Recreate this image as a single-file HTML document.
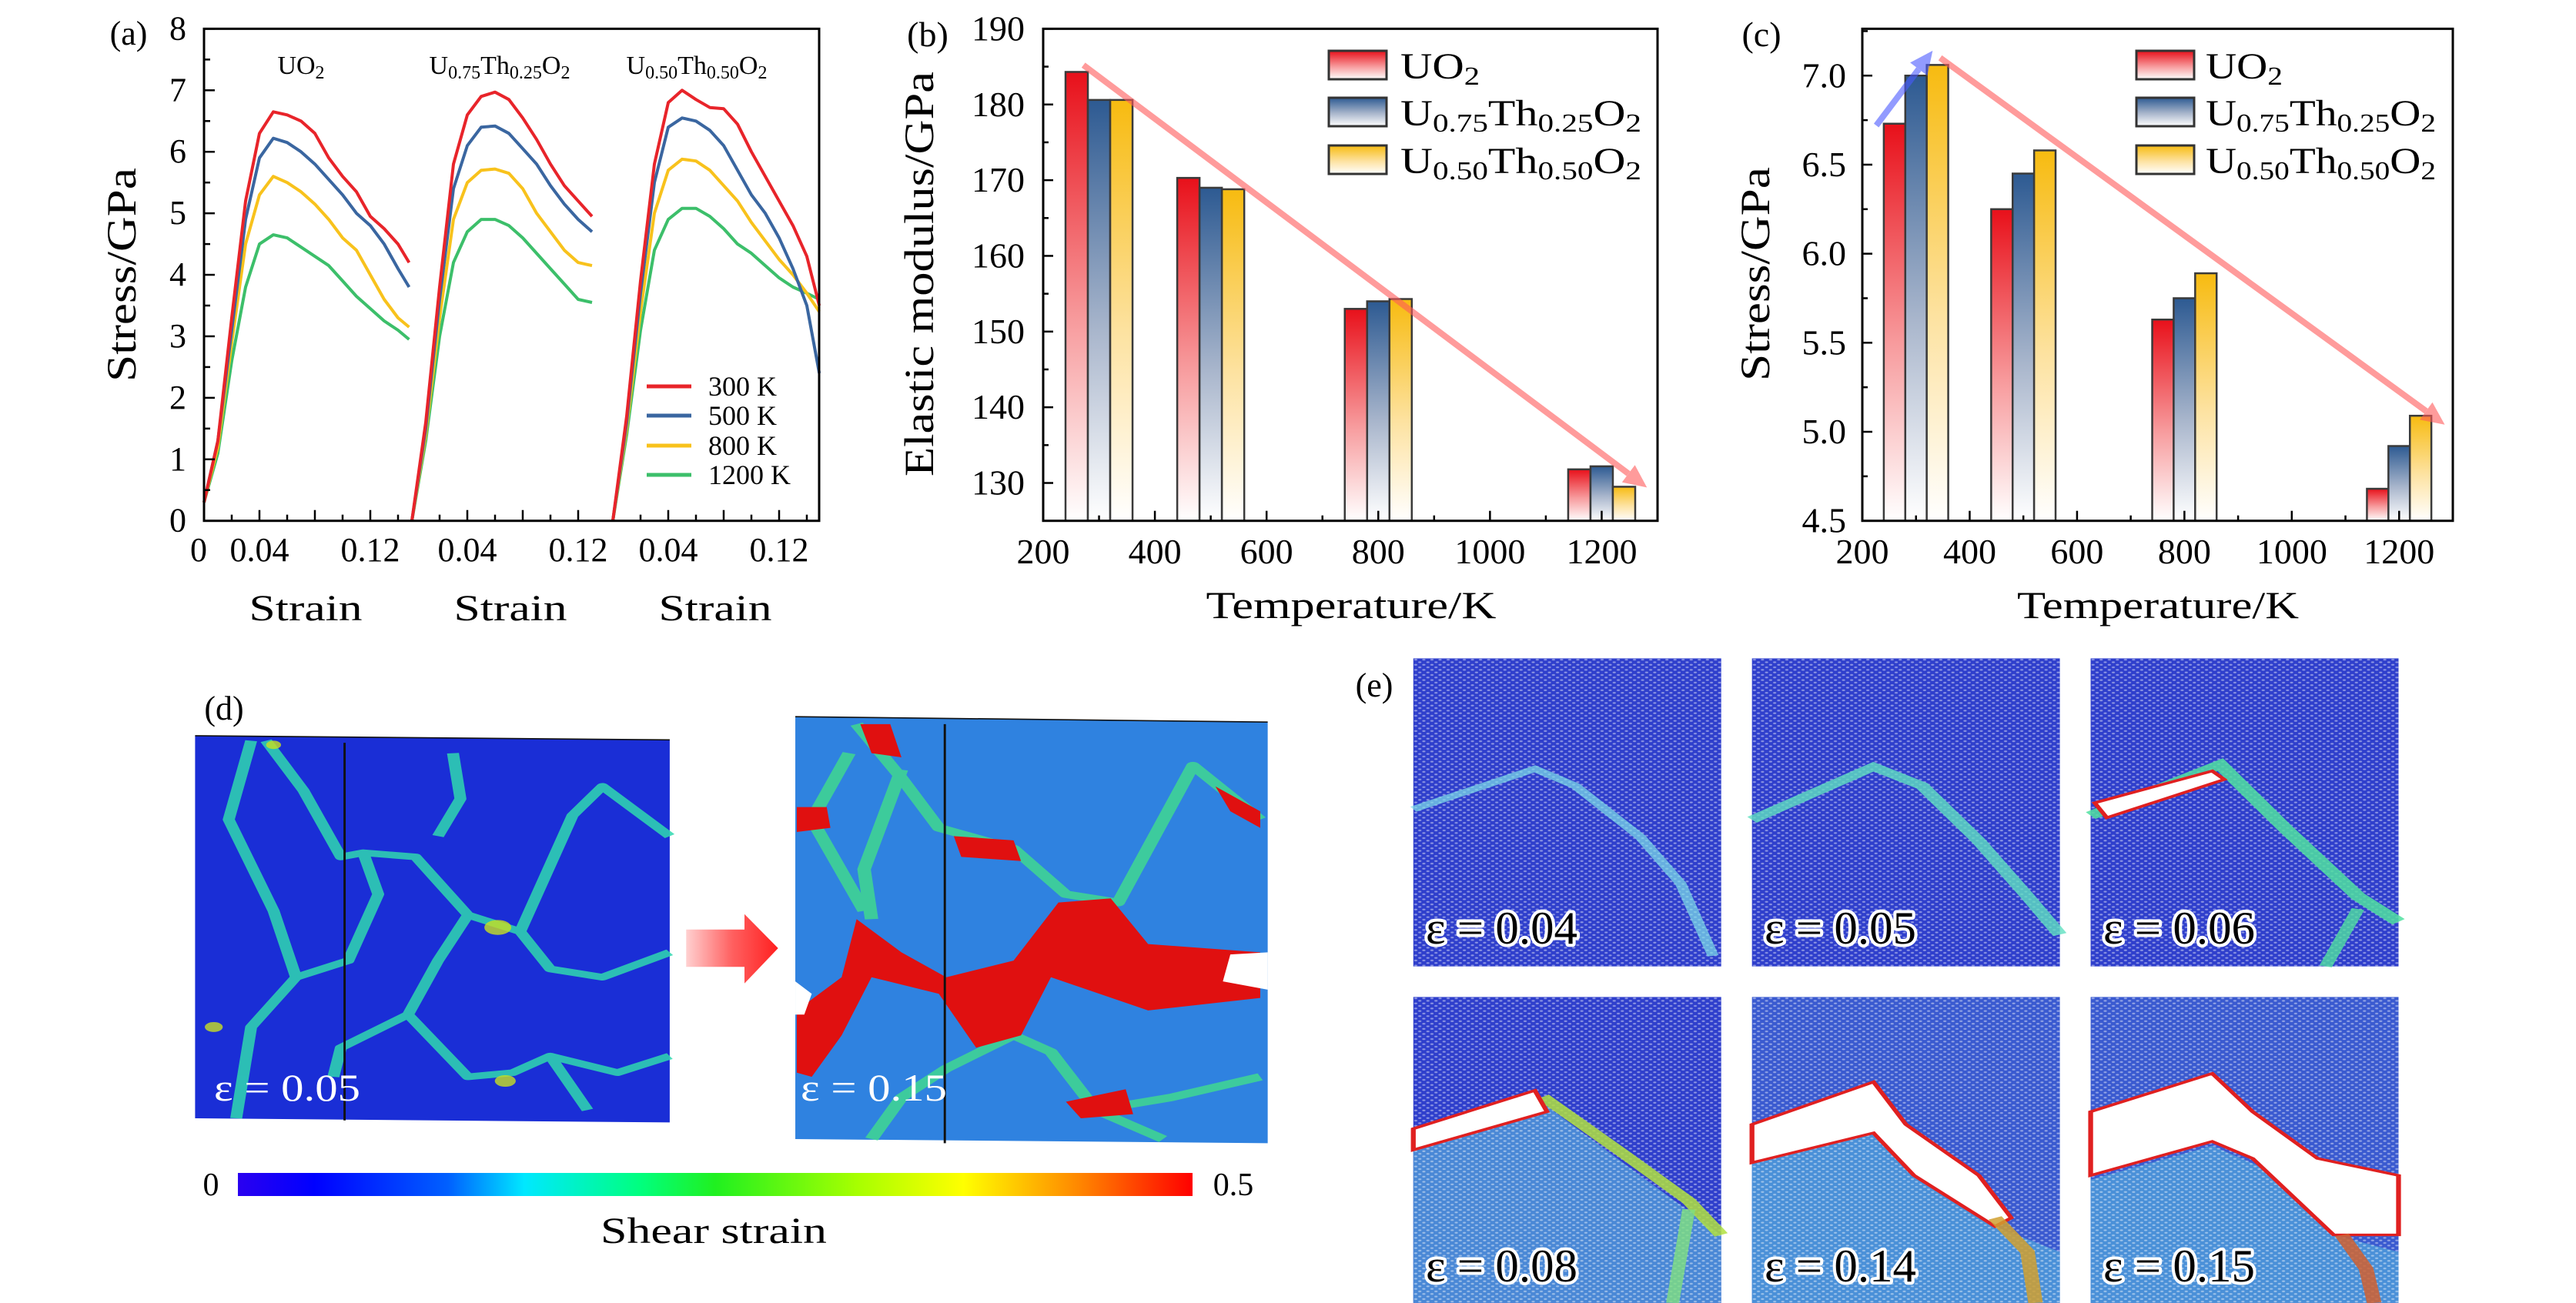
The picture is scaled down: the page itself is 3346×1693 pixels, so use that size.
<!DOCTYPE html>
<html><head><meta charset="utf-8"><style>
html,body{margin:0;padding:0;background:#fff;}
svg{display:block;font-family:"Liberation Serif",serif;}
</style></head><body>
<svg id="fig" xmlns="http://www.w3.org/2000/svg" width="3346" height="1693" viewBox="0 0 3346 1693">
<defs>
<linearGradient id="gRed" x1="0" y1="0" x2="0" y2="1"><stop offset="0" stop-color="#e8101a"/><stop offset="0.55" stop-color="#f79a9c"/><stop offset="1" stop-color="#ffffff"/></linearGradient>
<linearGradient id="gBlue" x1="0" y1="0" x2="0" y2="1"><stop offset="0" stop-color="#2d5a92"/><stop offset="0.55" stop-color="#a9b6cc"/><stop offset="1" stop-color="#ffffff"/></linearGradient>
<linearGradient id="gYel" x1="0" y1="0" x2="0" y2="1"><stop offset="0" stop-color="#f7bb10"/><stop offset="0.55" stop-color="#fde2a0"/><stop offset="1" stop-color="#ffffff"/></linearGradient>
<linearGradient id="gCbar" x1="0" y1="0" x2="1" y2="0"><stop offset="0" stop-color="#2a00f0"/><stop offset="0.08" stop-color="#0000ff"/><stop offset="0.22" stop-color="#0060ff"/><stop offset="0.3" stop-color="#00e8ff"/><stop offset="0.42" stop-color="#00ff80"/><stop offset="0.5" stop-color="#20f020"/><stop offset="0.65" stop-color="#a8ff00"/><stop offset="0.76" stop-color="#ffff00"/><stop offset="0.88" stop-color="#ff8800"/><stop offset="1" stop-color="#ff0000"/></linearGradient>
<linearGradient id="gArrow" x1="0" y1="0" x2="1" y2="0"><stop offset="0" stop-color="#ffd0d0"/><stop offset="0.5" stop-color="#ff6060"/><stop offset="1" stop-color="#ff2020"/></linearGradient>
<pattern id="dots" width="10" height="12" patternUnits="userSpaceOnUse"><circle cx="3" cy="3" r="2" fill="#fff" opacity="0.45"/><circle cx="8" cy="9" r="2" fill="#fff" opacity="0.45"/></pattern>
</defs>

<g id="pa"></g>
<g id="pb"></g>
<g id="pc"></g>

<!-- Panel d -->
<g>
<text x="291" y="935" font-size="44" text-anchor="middle">(d)</text>
<g transform="translate(200 860) scale(0.9709 0.5391)">
 <g>
 <polygon points="55,178 690,188 690,1110 55,1100" fill="#1a2ed6"/>
 <g fill="none" stroke="#30d8b0" stroke-width="16" stroke-linejoin="round" opacity="0.85">
  <polyline points="130,190 100,380 160,600 190,760 130,880 110,1100"/>
  <polyline points="150,190 200,310 250,470 280,460 350,470 420,610 490,650 560,370 600,300 690,420"/>
  <polyline points="490,650 530,740 600,760 690,700"/>
  <polyline points="420,610 380,720 340,850 250,930 240,1000"/>
  <polyline points="340,850 420,1000 480,990 530,950 580,1080"/>
  <polyline points="530,950 620,990 690,950"/>
  <polyline points="190,760 260,720 300,560 280,460"/>
  <polyline points="400,220 410,330 380,420"/>
 </g>
 <g fill="#c8e020" opacity="0.8"><circle cx="460" cy="640" r="18"/><circle cx="470" cy="1010" r="14"/><circle cx="80" cy="880" r="12"/><circle cx="160" cy="200" r="10"/></g>
 <line x1="255" y1="195" x2="255" y2="1105" stroke="#111" stroke-width="3"/>
 <line x1="55" y1="178" x2="690" y2="188" stroke="#111" stroke-width="3"/>
 </g>
 <g>
 <polygon points="858,132 1490,145 1490,1160 858,1150" fill="#2f82e0"/>
 <g fill="none" stroke="#40d890" stroke-width="18" stroke-linejoin="round" opacity="0.85">
  <polyline points="940,150 1000,280 1050,400 1150,450 1220,560 1290,580 1390,250 1480,380"/>
  <polyline points="930,220 880,380 950,600"/>
  <polyline points="1150,900 1200,940 1260,1080 1350,1150"/>
  <polyline points="1150,900 1060,980 1000,1050 960,1150"/>
  <polyline points="1260,1080 1360,1050 1480,1000"/>
  <polyline points="1000,260 950,500 960,620"/>
 </g>
 <polygon fill="#e01010" points="940,620 1000,700 1060,760 1150,720 1210,580 1280,570 1330,680 1480,700 1480,810 1330,840 1200,760 1160,900 1100,930 1050,800 960,760 920,900 880,1000 860,990 860,840 920,760"/>
 <polygon fill="#e01010" points="1070,420 1150,430 1160,480 1080,470"/>
 <polygon fill="#e01010" points="860,350 900,350 905,400 860,410"/>
 <polygon fill="#e01010" points="945,150 985,150 1000,230 960,220"/>
 <polygon fill="#e01010" points="1220,1060 1300,1030 1310,1090 1240,1100"/>
 <polygon fill="#e01010" points="1420,300 1480,360 1480,400 1440,360"/>
 <polygon fill="#ffffff" points="1440,705 1490,700 1490,790 1430,770"/>
 <polygon fill="#ffffff" points="858,770 880,800 870,850 858,850"/>
 <line x1="1058" y1="150" x2="1058" y2="1160" stroke="#111" stroke-width="3"/>
 <line x1="858" y1="132" x2="1490" y2="145" stroke="#111" stroke-width="3"/>
 </g>
 <g>
 <polygon points="712,645 790,645 790,608 835,690 790,775 790,735 712,735" fill="url(#gArrow)"/>
 </g>
</g>
<text x="278" y="1430" font-size="50" fill="#fff" textLength="190" lengthAdjust="spacingAndGlyphs">ε = 0.05</text>
<text x="1040" y="1430" font-size="50" fill="#fff" textLength="190" lengthAdjust="spacingAndGlyphs">ε = 0.15</text>
<rect x="309" y="1524" width="1240" height="30" fill="url(#gCbar)"/>
<text x="274" y="1553" font-size="42" text-anchor="middle">0</text>
<text x="1602" y="1553" font-size="42" text-anchor="middle">0.5</text>
<text x="927" y="1615" font-size="48" text-anchor="middle" textLength="294" lengthAdjust="spacingAndGlyphs">Shear strain</text>
</g>

<!-- Panel e -->
<g>
<text x="1785" y="905" font-size="44" text-anchor="middle">(e)</text>
<g transform="translate(1720 840) scale(1.0524 0.552)">
 <g transform="translate(110 28)">
  <rect width="380" height="725" fill="#2f3fcc"/>
  <rect width="380" height="725" fill="url(#dots)"/>
  <polyline points="0,355 150,260 200,300 280,420 330,530 370,700" fill="none" stroke="#7fe0e8" stroke-width="14" opacity="0.7"/>
 </g>
 <g transform="translate(528 28)">
  <rect width="380" height="725" fill="#2f3fcc"/>
  <rect width="380" height="725" fill="url(#dots)"/>
  <polyline points="0,380 150,255 210,300 280,430 340,560 380,650" fill="none" stroke="#60e0c0" stroke-width="18" opacity="0.8"/>
 </g>
 <g transform="translate(946 28)">
  <rect width="380" height="725" fill="#2f3fcc"/>
  <rect width="380" height="725" fill="url(#dots)"/>
  <polyline points="0,370 160,250 240,400 330,560 380,620" fill="none" stroke="#50e0a0" stroke-width="20" opacity="0.85"/>
  <polyline points="330,590 290,725" fill="none" stroke="#50e0a0" stroke-width="16" opacity="0.8"/>
  <polygon points="5,340 150,265 165,285 20,375" fill="#fff" stroke="#e02020" stroke-width="6"/>
 </g>
 <g transform="translate(110 825)">
  <rect width="380" height="720" fill="#2f3fcc"/>
  <polygon points="0,360 160,250 280,420 380,560 380,720 0,720" fill="#4a88d6"/>
  <rect width="380" height="720" fill="url(#dots)"/>
  <polyline points="160,235 260,370 340,480 380,560" fill="none" stroke="#b0e040" stroke-width="18" opacity="0.85"/>
  <polyline points="340,500 320,720" fill="none" stroke="#80e080" stroke-width="16" opacity="0.8"/>
  <polygon points="0,310 150,220 165,270 0,360" fill="#fff" stroke="#e02020" stroke-width="6"/>
 </g>
 <g transform="translate(528 825)">
  <rect width="380" height="720" fill="#3a5ad0"/>
  <polygon points="0,390 150,310 200,420 300,540 380,600 380,720 0,720" fill="#4a90d8"/>
  <rect width="380" height="720" fill="url(#dots)"/>
  <polygon points="0,300 150,200 190,300 280,420 320,520 300,540 200,420 150,320 0,390" fill="#fff" stroke="#e02020" stroke-width="6"/>
  <polyline points="300,520 340,600 350,720" fill="none" stroke="#d0a030" stroke-width="18" opacity="0.85"/>
 </g>
 <g transform="translate(946 825)">
  <rect width="380" height="720" fill="#3a5ad0"/>
  <polygon points="0,430 150,350 210,400 300,560 380,600 380,720 0,720" fill="#4a90d8"/>
  <rect width="380" height="720" fill="url(#dots)"/>
  <polygon points="0,270 150,180 200,270 280,380 380,420 380,560 300,560 200,380 150,340 0,420" fill="#fff" stroke="#e02020" stroke-width="6"/>
  <polyline points="310,560 340,640 350,720" fill="none" stroke="#d06030" stroke-width="18" opacity="0.85"/>
 </g>
</g>
<g font-size="60" fill="#000" stroke="#fff" stroke-width="8" paint-order="stroke" stroke-linejoin="round">
 <text x="1852" y="1226" textLength="197" lengthAdjust="spacingAndGlyphs">ε = 0.04</text>
 <text x="2292" y="1226" textLength="197" lengthAdjust="spacingAndGlyphs">ε = 0.05</text>
 <text x="2732" y="1226" textLength="197" lengthAdjust="spacingAndGlyphs">ε = 0.06</text>
 <text x="1852" y="1665" textLength="197" lengthAdjust="spacingAndGlyphs">ε = 0.08</text>
 <text x="2292" y="1665" textLength="197" lengthAdjust="spacingAndGlyphs">ε = 0.14</text>
 <text x="2732" y="1665" textLength="197" lengthAdjust="spacingAndGlyphs">ε = 0.15</text>
</g>
</g>
</svg>

<script>
// ---------- Panel (a) data ----------
const strainA1 = [0,0.01,0.02,0.03,0.04,0.05,0.06,0.07,0.08,0.09,0.10,0.11,0.12,0.13,0.14,0.148];
const uo2_300  = [0.3,1.3,3.3,5.2,6.3,6.65,6.6,6.5,6.3,5.9,5.6,5.35,4.95,4.75,4.5,4.2];
const uo2_500  = [0.3,1.3,3.1,4.9,5.9,6.22,6.15,6.0,5.8,5.55,5.3,5.0,4.8,4.5,4.1,3.8];
const uo2_800  = [0.3,1.2,2.9,4.5,5.3,5.6,5.5,5.35,5.15,4.9,4.6,4.4,4.0,3.6,3.3,3.15];
const uo2_1200 = [0.3,1.1,2.6,3.8,4.5,4.65,4.6,4.45,4.3,4.15,3.9,3.65,3.45,3.25,3.1,2.95];
const strainA2 = [0,0.01,0.02,0.03,0.04,0.05,0.06,0.07,0.08,0.09,0.10,0.11,0.12,0.13];
const th25_300  = [0,1.6,3.8,5.8,6.6,6.9,6.97,6.85,6.55,6.2,5.8,5.45,5.2,4.95];
const th25_500  = [0,1.5,3.6,5.4,6.1,6.4,6.42,6.3,6.05,5.8,5.45,5.15,4.9,4.7];
const th25_800  = [0,1.4,3.3,4.9,5.5,5.7,5.72,5.65,5.4,5.0,4.7,4.4,4.2,4.15];
const th25_1200 = [0,1.3,3.0,4.2,4.7,4.9,4.9,4.8,4.6,4.35,4.1,3.85,3.6,3.55];
const strainA3 = [0,0.01,0.02,0.03,0.04,0.05,0.06,0.07,0.08,0.09,0.10,0.11,0.12,0.13,0.14,0.149];
const th50_300  = [0,1.7,3.9,5.8,6.8,7.0,6.85,6.72,6.7,6.45,6.0,5.6,5.2,4.8,4.3,3.5];
const th50_500  = [0,1.6,3.7,5.5,6.4,6.55,6.5,6.35,6.1,5.7,5.3,5.0,4.6,4.1,3.5,2.4];
const th50_800  = [0,1.5,3.4,5.0,5.7,5.88,5.85,5.7,5.45,5.2,4.85,4.55,4.25,4.0,3.7,3.4];
const th50_1200 = [0,1.4,3.1,4.4,4.9,5.08,5.08,4.95,4.75,4.5,4.35,4.15,3.95,3.8,3.7,3.6];
const tempLabels = ["300 K","500 K","800 K","1200 K"];
const stressTicksA = [0,1,2,3,4,5,6,7,8];

// ---------- Panels (b),(c) data ----------
const temps = [300,500,800,1200];
const modUO2  = [184.3,170.3,153.0,131.8];
const modTh25 = [180.6,169.0,154.0,132.2];
const modTh50 = [180.6,168.8,154.3,129.5];
const strUO2  = [6.73,6.25,5.63,4.68];
const strTh25 = [7.00,6.45,5.75,4.92];
const strTh50 = [7.06,6.58,5.89,5.09];
const tempTicks = [200,400,600,800,1000,1200];
const modTicks = [130,140,150,160,170,180,190];
const strTicks = [4.5,5.0,5.5,6.0,6.5,7.0];

const NS = 'http://www.w3.org/2000/svg';
function el(tag, attrs, parent){
  const e = document.createElementNS(NS, tag);
  for (const k in attrs) e.setAttribute(k, attrs[k]);
  parent.appendChild(e);
  return e;
}
const COLORS = ['#e8242a','#3a66a0','#f8c21c','#3cbf6a'];

// ---------- Panel (a) ----------
(function(){
  const g = document.getElementById('pa');
  const L=265, R=1064, T=37.4, B=676.7;
  const origins = [265,535,796];
  const xA = (p,s) => origins[p] + s*1800;
  const yA = v => B - v*(B-T)/8;
  const sets = [
    [strainA1,[uo2_300,uo2_500,uo2_800,uo2_1200]],
    [strainA2,[th25_300,th25_500,th25_800,th25_1200]],
    [strainA3,[th50_300,th50_500,th50_800,th50_1200]]
  ];
  sets.forEach((set,p)=>{
    const xs=set[0];
    for (let k=3;k>=0;k--){
      const ys=set[1][k];
      const pts = xs.map((s,i)=>xA(p,s).toFixed(1)+','+yA(ys[i]).toFixed(1)).join(' ');
      const pl = el('polyline',{points:pts,fill:'none',stroke:COLORS[k],'stroke-width':4,'stroke-linejoin':'round'},g);
      
      
    }
  });
  const fr = el('rect',{x:L,y:T,width:R-L,height:B-T,fill:'none',stroke:'#000','stroke-width':3},g);
  
  
  for (let v=0; v<=8; v+=0.5){
    const major = Number.isInteger(v);
    el('line',{x1:L,x2:L+(major?14:8),y1:yA(v),y2:yA(v),stroke:'#000','stroke-width':2.5},g);
  }
  stressTicksA.forEach(v=>{
    const t = el('text',{x:242,y:yA(v)+14,'font-size':44,'text-anchor':'end'},g);
    t.textContent = v;
    
    
  });
  const ends=[0.148,0.144,0.149];
  origins.forEach((o,p)=>{
    for (let s=0.02; s<ends[p]-0.005; s+=0.02){
      const major = Math.abs((s/0.04)-Math.round(s/0.04))<0.01;
      el('line',{x1:xA(p,s),x2:xA(p,s),y1:B,y2:B-(major?14:8),stroke:'#000','stroke-width':2.5},g);
    }
    [0.04,0.12].forEach(s=>{
      const t = el('text',{x:xA(p,s),y:729,'font-size':44,'text-anchor':'middle'},g);
      t.textContent = s.toFixed(2);
      
      
    });
    const st = el('text',{x:[397,663,929][p],y:806,'font-size':48,'text-anchor':'middle',textLength:147,lengthAdjust:'spacingAndGlyphs'},g);
    st.textContent='Strain';
    
    
  });
  const z = el('text',{x:258,y:729,'font-size':44,'text-anchor':'middle'},g);
  z.textContent='0';
  
  
  const yl = el('text',{transform:'translate(176 357) rotate(-90)','font-size':54,'text-anchor':'middle',textLength:278,lengthAdjust:'spacingAndGlyphs'},g);
  yl.textContent='Stress/GPa';
  
  
  const lab = el('text',{x:167,y:58,'font-size':44,'text-anchor':'middle'},g);
  lab.textContent='(a)';
  
  
  const titles = [[391,'UO',null,null],[649,'U','0.75','0.25'],[905,'U','0.50','0.50']];
  titles.forEach((tt,i)=>{
    const t = el('text',{x:tt[0],y:96,'font-size':34,'text-anchor':'middle'},g);
    
    
    if (i===0){
      t.innerHTML = 'UO<tspan font-size="24" dy="6">2</tspan>';
    } else {
      t.innerHTML = 'U<tspan font-size="24" dy="6">'+tt[2]+'</tspan><tspan dy="-6">Th</tspan><tspan font-size="24" dy="6">'+tt[3]+'</tspan><tspan dy="-6">O</tspan><tspan font-size="24" dy="6">2</tspan>';
    }
  });
  const ly=[502,540,579,617];
  tempLabels.forEach((lbl,k)=>{
    const ln = el('line',{x1:840,x2:898,y1:ly[k],y2:ly[k],stroke:COLORS[k],'stroke-width':5},g);
    
    
    const t = el('text',{x:920,y:ly[k]+12,'font-size':36},g);
    t.textContent=lbl;
    
    
  });
})();

// ---------- Bar chart helper ----------
function barPanel(g, cfg){
  const {L,R,T,B,xmin,xmax,ymin,ymax,series,ticks,tickFmt,minorStep,ylabel,ylabelX,ylabelLen,tickRight,letter,letterX,legX,legTextX,legLens,arrows,xTitleX,xTitleLen,name} = cfg;
  const x = v => L + (v-xmin)*(R-L)/(xmax-xmin);
  const y = v => B - (v-ymin)*(B-T)/(ymax-ymin);
  const grads=['url(#gRed)','url(#gBlue)','url(#gYel)'];
  const bw = 40;
  series.forEach((vals,k)=>{
    temps.forEach((t,i)=>{
      const x0 = x(t+(k-1)*bw-bw/2), x1 = x(t+(k-1)*bw+bw/2);
      const r = el('rect',{x:x0,y:y(vals[i]),width:x1-x0,height:B-y(vals[i]),fill:grads[k],stroke:'#3a3a3a','stroke-width':2.5},g);
      
      
    });
  });
  arrows.forEach(a=>{
    const x1=x(a[0]),y1=y(a[1]),x2=x(a[2]),y2=y(a[3]);
    const ang=Math.atan2(y2-y1,x2-x1), h=30, w=14;
    const bx=x2-h*Math.cos(ang), by=y2-h*Math.sin(ang);
    const ag = el('g',{opacity:0.6},g);
    
    
    el('line',{x1:x1,y1:y1,x2:bx,y2:by,stroke:a[4],'stroke-width':8},ag);
    el('polygon',{points:[x2,y2,bx-w*Math.sin(ang),by+w*Math.cos(ang),bx+w*Math.sin(ang),by-w*Math.cos(ang)].join(' '),fill:a[4]},ag);
  });
  const fr = el('rect',{x:L,y:T,width:R-L,height:B-T,fill:'none',stroke:'#000','stroke-width':3},g);
  
  
  for (let v=ymin; v<=ymax+1e-9; v+=minorStep){
    if (y(v)<T-1) continue;
    const major = ticks.some(t=>Math.abs(t-v)<1e-6);
    el('line',{x1:L,x2:L+(major?13:7),y1:y(v),y2:y(v),stroke:'#000','stroke-width':2.5},g);
  }
  ticks.forEach(v=>{
    const t = el('text',{x:tickRight,y:y(v)+15,'font-size':46,'text-anchor':'end'},g);
    t.textContent = tickFmt(v);
    
    
  });
  for (let v=300; v<=1200; v+=100){
    const major = v%200===0;
    el('line',{x1:x(v),x2:x(v),y1:B,y2:B-(major?13:7),stroke:'#000','stroke-width':2.5},g);
  }
  tempTicks.forEach(v=>{
    const t = el('text',{x:x(v),y:732,'font-size':46,'text-anchor':'middle'},g);
    t.textContent = v;
    
    
  });
  const xt = el('text',{x:xTitleX,y:803,'font-size':50,'text-anchor':'middle',textLength:xTitleLen,lengthAdjust:'spacingAndGlyphs'},g);
  xt.textContent='Temperature/K';
  
  
  const yt = el('text',{transform:'translate('+ylabelX+' 356) rotate(-90)','font-size':54,'text-anchor':'middle',textLength:ylabelLen,lengthAdjust:'spacingAndGlyphs'},g);
  yt.textContent=ylabel;
  
  
  const lt = el('text',{x:letterX,y:60,'font-size':46,'text-anchor':'middle'},g);
  lt.textContent=letter;
  
  
  const boxY=[66,127,189];
  const legHTML=['UO<tspan font-size="34" dy="8">2</tspan>',
    'U<tspan font-size="34" dy="8">0.75</tspan><tspan dy="-8">Th</tspan><tspan font-size="34" dy="8">0.25</tspan><tspan dy="-8">O</tspan><tspan font-size="34" dy="8">2</tspan>',
    'U<tspan font-size="34" dy="8">0.50</tspan><tspan dy="-8">Th</tspan><tspan font-size="34" dy="8">0.50</tspan><tspan dy="-8">O</tspan><tspan font-size="34" dy="8">2</tspan>'];
  boxY.forEach((by,k)=>{
    const b = el('rect',{x:legX,y:by,width:75,height:37,fill:grads[k],stroke:'#333','stroke-width':3},g);
    
    
    const t = el('text',{x:legTextX,y:by+36,'font-size':48,textLength:legLens[k],lengthAdjust:'spacingAndGlyphs'},g);
    t.innerHTML = legHTML[k];
    
    
  });
}

barPanel(document.getElementById('pb'),{
  name:'b',L:1355,R:2153,T:37.4,B:676.7,xmin:200,xmax:1300,ymin:125,ymax:190,
  series:[modUO2,modTh25,modTh50],ticks:modTicks,tickFmt:v=>String(v),minorStep:5,
  ylabel:'Elastic modulus/GPa',ylabelX:1212,ylabelLen:526,tickRight:1331,
  letter:'(b)',letterX:1205,legX:1726,legTextX:1819,legLens:[103,313,313],
  arrows:[[272,185.2,1281,129.4,'#ff5a5a']],xTitleX:1755,xTitleLen:377
});
barPanel(document.getElementById('pc'),{
  name:'c',L:2419,R:3186,T:37.4,B:676.7,xmin:200,xmax:1300,ymin:4.5,ymax:7.263,
  series:[strUO2,strTh25,strTh50],ticks:strTicks,tickFmt:v=>v.toFixed(1),minorStep:0.25,
  ylabel:'Stress/GPa',ylabelX:2298,ylabelLen:278,tickRight:2398,
  letter:'(c)',letterX:2288,legX:2775,legTextX:2865,legLens:[100,299,299],
  arrows:[[345,7.10,1285,5.04,'#ff5a5a'],[226,6.72,331,7.14,'#4a5aff']],xTitleX:2803,xTitleLen:366
});
</script>
</body></html>
